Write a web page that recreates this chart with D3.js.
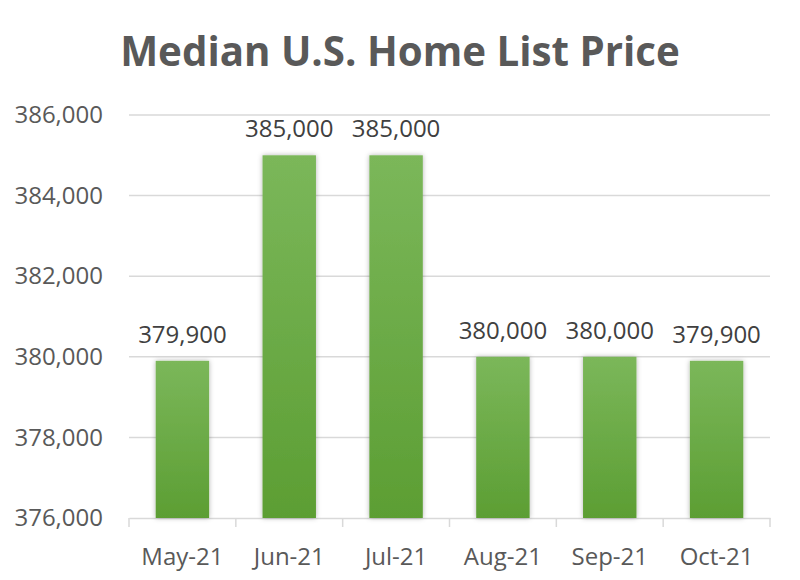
<!DOCTYPE html>
<html><head><meta charset="utf-8">
<script src="https://cdn.jsdelivr.net/npm/d3@7"></script>
<style>body{margin:0;background:#fff}svg{display:block}</style>
</head><body>
<svg id="c" width="800" height="580"></svg>
<script>
const categories = ["May-21","Jun-21","Jul-21","Aug-21","Sep-21","Oct-21"];
const values = [379900,385000,385000,380000,380000,379900];
const yTicks = [376000,378000,380000,382000,384000,386000];
const title = "Median U.S. Home List Price";

const svg = d3.select("#c");
const font = "'Open Sans', sans-serif";
const pLeft = 129, pRight = 770, pTop = 115, pBottom = 518;

const x = d3.scaleBand().domain(categories).range([pLeft,pRight]).paddingInner(0.5).paddingOuter(0.25);
const y = d3.scaleLinear().domain([376000,386000]).range([pBottom,pTop]);
const fmt = d3.format(",");

const defs = svg.append("defs");
const g = defs.append("linearGradient").attr("id","grad").attr("x1",0).attr("y1",0).attr("x2",0).attr("y2",1);
g.append("stop").attr("offset","0%").attr("stop-color","#7bb75a");
g.append("stop").attr("offset","100%").attr("stop-color","#5c9e33");
const f = defs.append("filter").attr("id","sh").attr("x","-30%").attr("y","-10%").attr("width","160%").attr("height","120%");
f.append("feDropShadow").attr("dx",0).attr("dy",0).attr("stdDeviation",2.5).attr("flood-color","#000").attr("flood-opacity",0.3);

// title
const t = svg.append("text").attr("x",400).attr("y",66).attr("text-anchor","middle")
  .attr("font-family",font).attr("font-weight",700).attr("fill","#595959").attr("font-size",44).text(title);
const w = t.node().getComputedTextLength();
t.attr("font-size", 44*560/w);

// gridlines
svg.append("g").selectAll("line").data(yTicks.slice(1)).join("line")
  .attr("x1",pLeft).attr("x2",pRight).attr("y1",d=>y(d)).attr("y2",d=>y(d))
  .attr("stroke","#d9d9d9").attr("stroke-width",1.5);

// y axis labels
const ya = svg.append("g").attr("transform",`translate(${pLeft},0)`)
  .call(d3.axisLeft(y).tickValues(yTicks).tickFormat(fmt).tickSize(0).tickPadding(26));
ya.select(".domain").remove();
ya.selectAll("text").attr("font-family",font).attr("font-size",24).attr("fill","#595959");

// x axis
const xa = svg.append("g").attr("transform",`translate(0,${pBottom})`)
  .call(d3.axisBottom(x).tickSize(0).tickPadding(30));
xa.select(".domain").attr("stroke","#d9d9d9").attr("stroke-width",1.5);
xa.selectAll("text").attr("font-family",font).attr("font-size",24).attr("fill","#595959");
const bounds = d3.range(categories.length+1).map(i => pLeft + i*x.step());
svg.append("g").selectAll("line").data(bounds).join("line")
  .attr("x1",d=>d).attr("x2",d=>d).attr("y1",pBottom).attr("y2",pBottom+9)
  .attr("stroke","#d9d9d9").attr("stroke-width",1.5);

// bars
svg.append("g").selectAll("rect").data(values).join("rect")
  .attr("x",(d,i)=>x(categories[i])).attr("width",x.bandwidth())
  .attr("y",d=>y(d)).attr("height",d=>pBottom-y(d))
  .attr("fill","url(#grad)").attr("filter","url(#sh)");

// labels
svg.append("g").selectAll("text").data(values).join("text")
  .attr("x",(d,i)=>x(categories[i])+x.bandwidth()/2).attr("y",d=>y(d)-18)
  .attr("text-anchor","middle").attr("font-family",font).attr("font-size",24).attr("fill","#404040")
  .text(d=>fmt(d));
</script>
</body></html>
